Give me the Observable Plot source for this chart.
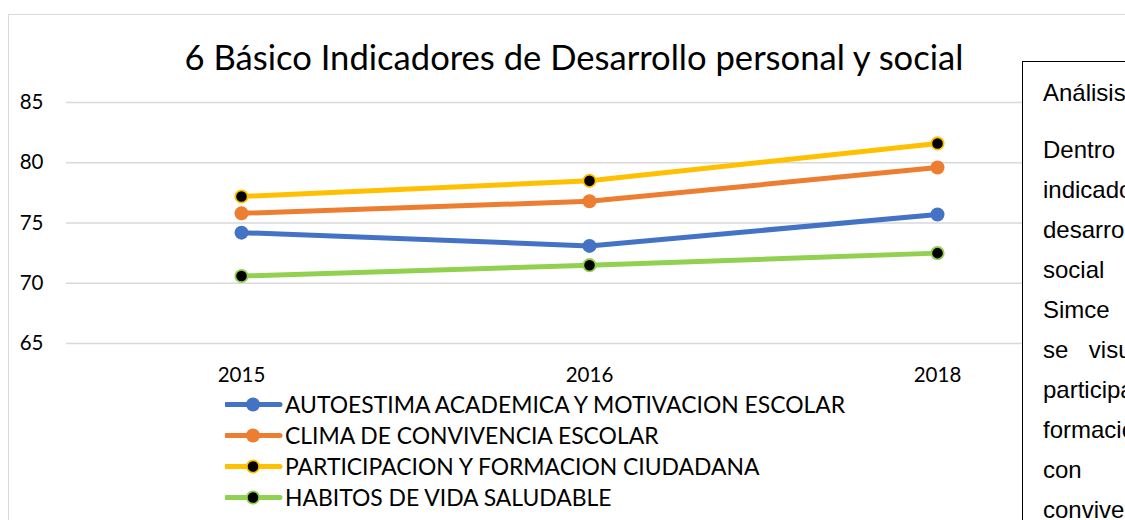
<!DOCTYPE html>
<html>
<head>
<meta charset="utf-8">
<script src="https://cdn.jsdelivr.net/npm/d3@7"></script>
<script src="https://cdn.jsdelivr.net/npm/@observablehq/plot@0.6"></script>
<style>
  html, body { margin: 0; padding: 0; background: #fff; }
  #root { position: relative; width: 1125px; height: 520px; overflow: hidden; background: #fff; font-family: Lato, "Open Sans", sans-serif; color: #000; }
  #frame { position: absolute; left: 8px; top: 14px; width: 1300px; height: 700px; border: 1.5px solid #d9d9d9; box-sizing: border-box; }
  #title { position: absolute; left: 0; width: 1148px; top: 35px; text-align: center; font-size: 34.6px; line-height: 44px; white-space: nowrap; }
  #chart { position: absolute; left: 0; top: 80px; }
  #legend { position: absolute; left: 225px; top: 388.5px; }
  .lg-row { height: 31px; display: flex; align-items: center; font-size: 22.9px; white-space: nowrap; }
  .lg-row svg { display: block; flex: none; }
  #note { position: absolute; left: 1022px; top: 61px; width: 225px; height: 600px; border: 1px solid #000; background: #fff;
          font-family: "Liberation Sans", Arial, sans-serif; font-size: 24px; line-height: 40px; padding: 10.5px 20px 0 20px; box-sizing: content-box; }
  #note .head { margin-bottom: 17.5px; }
  #note .ln { text-align: justify; text-align-last: justify; white-space: nowrap; }
</style>
</head>
<body>
<div id="root">
  <div id="frame"></div>
  <div id="title"></div>
  <div id="chart"></div>
  <div id="legend"></div>
  <div id="note"></div>
</div>
<script>
// ---- data ----
const titleText = "6 Básico Indicadores de Desarrollo personal y social";
const years = ["2015", "2016", "2018"];
const yTicks = [65, 70, 75, 80, 85];
const seriesNames = [
  "AUTOESTIMA ACADEMICA Y MOTIVACION ESCOLAR",
  "CLIMA DE CONVIVENCIA ESCOLAR",
  "PARTICIPACION Y FORMACION CIUDADANA",
  "HABITOS DE VIDA SALUDABLE"
];
const autoestima    = [74.2, 73.1, 75.7];
const clima         = [75.8, 76.8, 79.6];
const participacion = [77.2, 78.5, 81.6];
const habitos       = [70.6, 71.5, 72.5];
const seriesValues = [autoestima, clima, participacion, habitos];
const lineColors   = ["#4472C4", "#ED7D31", "#FFC000", "#92D050"];
const markerFills  = ["#4472C4", "#ED7D31", "#000000", "#000000"];
const noteHead = "Análisis";
const noteLines = [
  "Dentro de los",
  "indicadores de",
  "desarrollo personal y",
  "social en el",
  "Simce 2018,",
  "se visualiza mayor",
  "participación y",
  "formación ciudadana",
  "con clima de",
  "convivencia escolar.",
  "junto a lo anterior"
];

// ---- table ----
const data = seriesNames.flatMap((name, si) =>
  years.map((year, i) => ({ name, year, value: seriesValues[si][i], si }))
);

// ---- title ----
document.getElementById("title").textContent = titleText;

// ---- chart ----
const marks = [
  Plot.gridY(yTicks, { stroke: "#d9d9d9", strokeOpacity: 1, strokeWidth: 1.5 }),
  Plot.axisY(yTicks, { tickSize: 0, tickPadding: 23, label: null }),
  Plot.axisX({ tickSize: 0, tickPadding: 24, label: null })
];
seriesNames.forEach((name, si) => {
  const d = data.filter(r => r.si === si);
  marks.push(Plot.line(d, { x: "year", y: "value", stroke: lineColors[si], strokeWidth: 5, strokeLinecap: "round", strokeLinejoin: "round" }));
});
seriesNames.forEach((name, si) => {
  const d = data.filter(r => r.si === si);
  const hollow = markerFills[si] !== lineColors[si];
  marks.push(Plot.dot(d, { x: "year", y: "value", r: hollow ? 6.2 : 7, fill: markerFills[si], stroke: hollow ? lineColors[si] : "none", strokeWidth: hollow ? 1.8 : 0 }));
});

const chart = Plot.plot({
  width: 1125,
  height: 313,
  marginLeft: 66,
  marginRight: 13,
  marginTop: 22,
  marginBottom: 50,
  style: { fontFamily: "Lato, 'Open Sans', sans-serif", fontSize: "20.5px", color: "#000", background: "transparent", overflow: "visible" },
  x: { type: "point", domain: years, padding: 0.5 },
  y: { domain: [65, 85] },
  marks
});
document.getElementById("chart").appendChild(chart);

// ---- legend ----
const legend = d3.select("#legend");
seriesNames.forEach((name, si) => {
  const row = legend.append("div").attr("class", "lg-row");
  const svg = row.append("svg").attr("width", 60).attr("height", 31);
  svg.append("line").attr("x1", 1).attr("x2", 55).attr("y1", 15.5).attr("y2", 15.5)
    .attr("stroke", lineColors[si]).attr("stroke-width", 5).attr("stroke-linecap", "round");
  const hollow = markerFills[si] !== lineColors[si];
  svg.append("circle").attr("cx", 28).attr("cy", 15.5).attr("r", hollow ? 6.2 : 7)
    .attr("fill", markerFills[si]).attr("stroke", hollow ? lineColors[si] : "none").attr("stroke-width", hollow ? 1.8 : 0);
  row.append("span").text(name);
});

// ---- note box ----
const note = d3.select("#note");
note.append("div").attr("class", "head").text(noteHead);
noteLines.forEach(t => note.append("div").attr("class", "ln").text(t));
</script>
</body>
</html>
